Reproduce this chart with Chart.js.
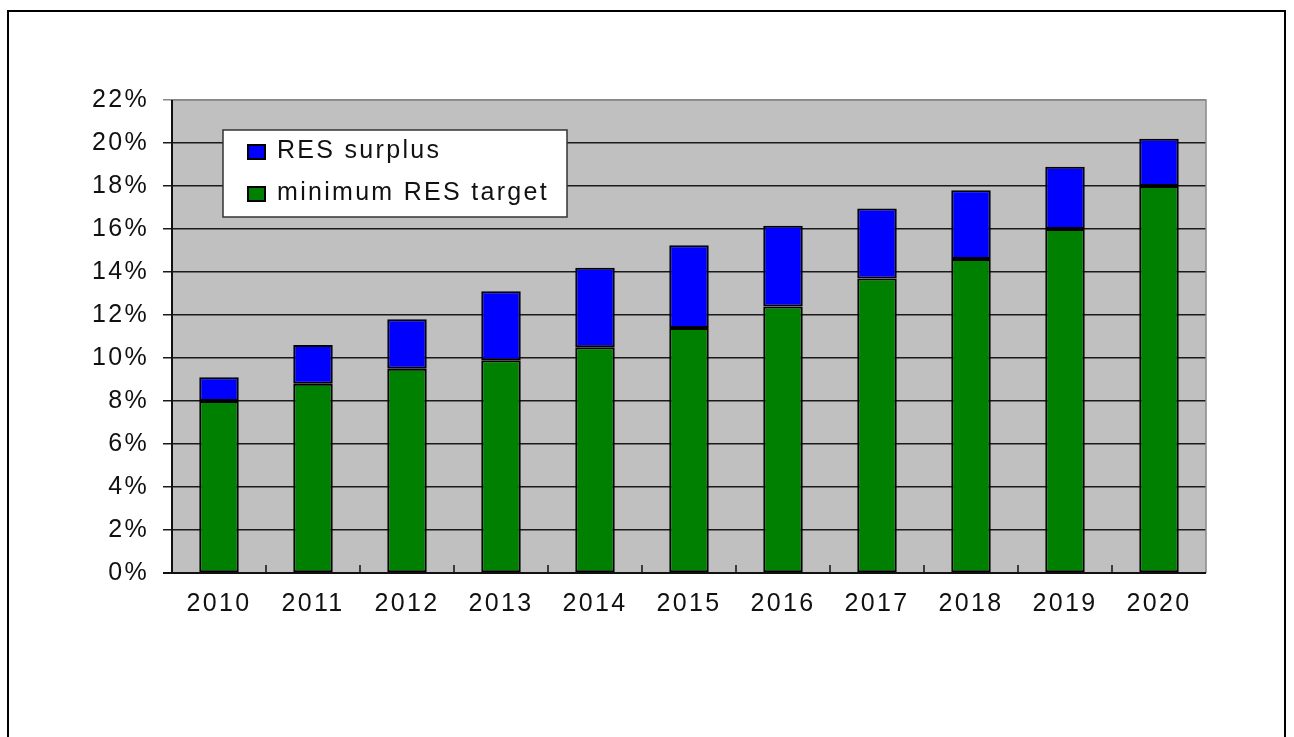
<!DOCTYPE html>
<html>
<head>
<meta charset="utf-8">
<script src="https://cdn.jsdelivr.net/npm/chart.js@4.4.1/dist/chart.umd.min.js"></script>
<style>
  html,body{margin:0;padding:0;background:#fff;}
  #wrap{position:relative;width:1294px;height:737px;}
  #frame{position:absolute;left:7px;top:10px;width:1279px;height:740px;border:2px solid #000;box-sizing:border-box;pointer-events:none;}
  canvas{position:absolute;left:0;top:0;}
</style>
</head>
<body>
<div id="wrap">
  <canvas id="c" width="1294" height="737"></canvas>
  <div id="frame"></div>
</div>
<script>
const years = ["2010","2011","2012","2013","2014","2015","2016","2017","2018","2019","2020"];
const minTarget = [8.0, 8.8, 9.5, 9.9, 10.5, 11.4, 12.4, 13.7, 14.6, 16.0, 18.0];
const surplus   = [1.1, 1.8, 2.3, 3.2, 3.7, 3.85, 3.75, 3.25, 3.2, 2.9, 2.2];
const yTicks = [0,2,4,6,8,10,12,14,16,18,20,22];

const FONT = "'Liberation Sans', Arial, sans-serif";
const SPACING = "2.3px";

// plot background, right/top border, small inner ticks on x axis
const plotFrame = {
  id:"plotFrame",
  beforeDraw(chart){
    const {ctx, chartArea:a} = chart;
    ctx.letterSpacing = SPACING;   // wide text like the original
    ctx.save();
    ctx.fillStyle = "#c0c0c0";
    ctx.fillRect(a.left, a.top, a.right-a.left, a.bottom-a.top);
    ctx.restore();
  },
  afterDatasetsDraw(chart){
    const {ctx, chartArea:a} = chart;
    ctx.save();
    ctx.strokeStyle = "#888";
    ctx.lineWidth = 1.5;
    ctx.beginPath();
    ctx.moveTo(a.left, a.top); ctx.lineTo(a.right, a.top); ctx.lineTo(a.right, a.bottom);
    ctx.stroke();
    // axes + category ticks pointing up
    const xs = chart.scales.x;
    ctx.strokeStyle = "#111";
    ctx.lineWidth = 2;
    ctx.beginPath();
    ctx.moveTo(a.left-9, a.bottom); ctx.lineTo(a.right, a.bottom);
    ctx.moveTo(a.left, a.top); ctx.lineTo(a.left, a.bottom);
    ctx.stroke();
    ctx.lineWidth = 1.5;
    const step = (a.right-a.left)/years.length;
    ctx.beginPath();
    for(let i=1;i<years.length;i++){
      const x = xs.left + step*i;
      ctx.moveTo(x, a.bottom); ctx.lineTo(x, a.bottom-8);
    }
    ctx.stroke();
    ctx.restore();
  }
};

// legend box inside the plot
const innerLegend = {
  id:"innerLegend",
  afterDraw(chart){
    const {ctx, chartArea:a} = chart;
    const x0 = a.left+51, y0 = a.top+30, w = 344, h = 87;
    ctx.save();
    ctx.fillStyle = "#fff";
    ctx.fillRect(x0, y0, w, h);
    ctx.strokeStyle = "#333";
    ctx.lineWidth = 1.5;
    ctx.strokeRect(x0, y0, w, h);
    const items = chart.data.datasets.slice().reverse();
    ctx.font = "25px " + FONT;
    ctx.letterSpacing = SPACING;
    ctx.textBaseline = "middle";
    items.forEach((d,i)=>{
      const cy = y0 + 22 + i*42;
      ctx.fillStyle = d.backgroundColor;
      ctx.fillRect(x0+25, cy-7, 17, 14);
      ctx.strokeStyle = "#000";
      ctx.lineWidth = 2;
      ctx.strokeRect(x0+25, cy-7, 17, 14);
      ctx.fillStyle = "#111";
      ctx.fillText(d.label, x0+54, cy-1);
    });
    ctx.restore();
  }
};

new Chart(document.getElementById("c"), {
  type:"bar",
  data:{
    labels:years,
    datasets:[
      {label:"minimum RES target", data:minTarget, backgroundColor:"#008000", borderColor:"#000", borderWidth:2, borderSkipped:false, barPercentage:0.42, categoryPercentage:1},
      {label:"RES surplus", data:surplus, backgroundColor:"#0000ff", borderColor:"#000", borderWidth:2, borderSkipped:false, barPercentage:0.42, categoryPercentage:1}
    ]
  },
  options:{
    responsive:false,
    animation:false,
    layout:{padding:{left:0, top:100, right:88, bottom:104}},
    plugins:{legend:{display:false}, tooltip:{enabled:false}},
    scales:{
      x:{
        stacked:true,
        grid:{display:false},
        border:{display:false},
        ticks:{color:"#111", font:{family:FONT, size:25}, padding:8, maxRotation:0, autoSkip:false},
        afterFit(s){ s.height = 60; }
      },
      y:{
        stacked:true,
        min:0, max:22,
        afterBuildTicks(s){ s.ticks = yTicks.map(v=>({value:v})); },
        grid:{
          color:(c)=> c.tick && c.tick.value===22 ? "#888" : "#1a1a1a",
          lineWidth:1.5,
          tickLength:9
        },
        border:{display:false},
        ticks:{color:"#111", font:{family:FONT, size:25}, padding:14, callback:(v)=>v+"%"},
        afterFit(s){ s.width = 172; }
      }
    }
  },
  plugins:[plotFrame, innerLegend]
});
</script>
</body>
</html>
